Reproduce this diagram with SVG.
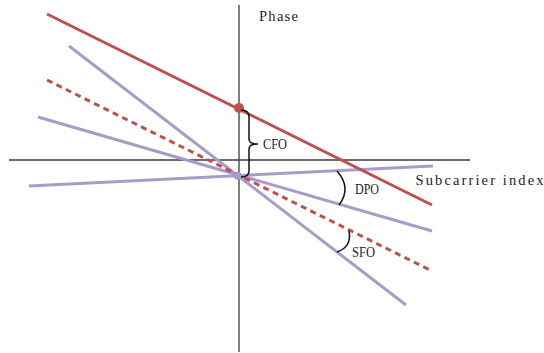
<svg xmlns="http://www.w3.org/2000/svg" width="544" height="353" viewBox="0 0 544 353">
<style>
.axis{stroke:#3a3a3a;stroke-width:1.3;fill:none}
.red{stroke:#c0504d;stroke-width:3;fill:none;stroke-linecap:butt}
.dash{stroke-dasharray:6 4.5}
.pur{stroke:#a99bc9;stroke-width:3;fill:none}
.mark{stroke:#111;stroke-width:1.5;fill:none}
text{font-family:"Liberation Serif","DejaVu Serif",serif;font-size:14.5px;fill:#222}
</style>
<rect width="544" height="353" fill="#fff"/>
<g id="axes">
<line class="axis" x1="9" y1="160" x2="470" y2="160"/>
<line class="axis" x1="239" y1="5" x2="239" y2="352"/>
<text x="259" y="21" textLength="39" lengthAdjust="spacing">Phase</text>
<text x="415.5" y="185" textLength="128" lengthAdjust="spacing">Subcarrier index</text>
</g>
<g id="connectors">
<line class="pur" x1="69" y1="46" x2="406" y2="305"/>
<line class="pur" x1="38" y1="117" x2="432" y2="231"/>
<line class="pur" x1="29" y1="186" x2="433" y2="166"/>
<line class="red dash" x1="47" y1="80" x2="430" y2="270"/>
<line class="red" x1="47" y1="14" x2="432" y2="205"/>
</g>
<g id="points">
<circle cx="239" cy="108" r="5" fill="#c0504d"/>
<circle cx="238" cy="176" r="4" fill="#a99bc9"/>
</g>
<g id="cfo">
<path class="mark" d="M241,110 Q249,110 249,117 L249,139 Q249,144 258,144 Q249,144 249,149 L249,171 Q249,177 241,177"/>
<text x="263" y="149" textLength="24" lengthAdjust="spacingAndGlyphs">CFO</text>
</g>
<g id="dpo">
<path class="mark" d="M337,171 Q352,188 339,205"/>
<text x="355" y="194" textLength="24" lengthAdjust="spacingAndGlyphs">DPO</text>
</g>
<g id="sfo">
<path class="mark" d="M349,231 Q352,247 337,252"/>
<text x="352" y="257" textLength="23" lengthAdjust="spacingAndGlyphs">SFO</text>
</g>
</svg>
